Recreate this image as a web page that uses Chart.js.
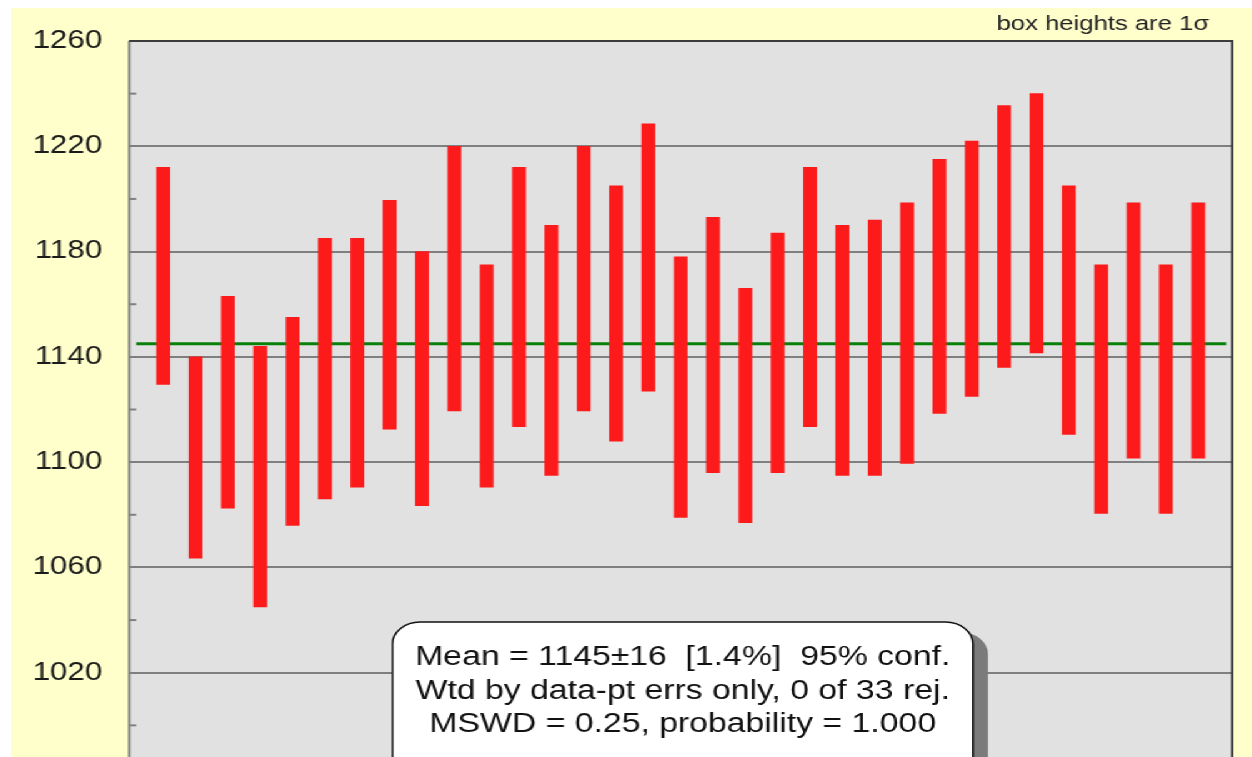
<!DOCTYPE html>
<html>
<head>
<meta charset="utf-8">
<script src="https://cdn.jsdelivr.net/npm/chart.js@4.4.1/dist/chart.umd.min.js"></script>
<style>
  html, body { margin: 0; padding: 0; background: #fff; overflow: hidden; width: 1252px; height: 757px; }
  /* the original plot is stretched sideways, so draw narrow and scale x */
  #wrap {
    position: absolute; left: 11px; top: 8px;
    width: 992.8px; height: 770px;
    background: #ffffcc;
    transform: scaleX(1.25); transform-origin: 0 0;
  }
</style>
</head>
<body>
<div id="wrap"><canvas id="wtd-mean"></canvas></div>
<script>
// analyses, in plot order
const sampleNo = [1, 2, 3, 4, 5, 6, 7, 8, 9, 10, 11, 12, 13, 14, 15, 16, 17,
  18, 19, 20, 21, 22, 23, 24, 25, 26, 27, 28, 29, 30, 31, 32, 33];
// top and bottom of each 1 sigma box (Ma)
const boxTop = [1212, 1140, 1163, 1144, 1155, 1185, 1185, 1199.5, 1180, 1220, 1175,
  1212, 1190, 1220, 1205, 1228.5, 1178, 1193, 1166, 1187, 1212, 1190, 1192, 1198.5,
  1215, 1222, 1235.5, 1240, 1205, 1175, 1198.5, 1175, 1198.5];
const boxBottom = [1129.5, 1063.5, 1082.5, 1045, 1076, 1086, 1090.5, 1112.5, 1083.5, 1119.5, 1090.5,
  1113.5, 1095, 1119.5, 1108, 1127, 1079, 1096, 1077, 1096, 1113.5, 1095, 1095, 1099.5,
  1118.5, 1125, 1136, 1141.5, 1110.5, 1080.5, 1101.5, 1080.5, 1101.5];
const meanAge = 1145;
const yTicks = [980, 1000, 1020, 1040, 1060, 1080, 1100, 1120, 1140, 1160, 1180, 1200, 1220, 1240, 1260];
const yLabelled = [1020, 1060, 1100, 1140, 1180, 1220, 1260];
const statLines = [
  'Mean = 1145\u00b116  [1.4%]  95% conf.',
  'Wtd by data-pt errs only, 0 of 33 rej.',
  'MSWD = 0.25, probability = 1.000'
];
const boxNote = 'box heights are 1\u03c3';

const isMajor = v => v % 40 === 20;

// fondo, linea de la media, marcas menores, marco y recuadro de estadisticas
const plotFrame = {
  id: 'plotFrame',
  beforeDraw(chart) {
    const { ctx, chartArea: a } = chart;
    ctx.save();
    ctx.fillStyle = '#e1e1e1';
    ctx.fillRect(a.left, a.top, a.right - a.left, a.bottom - a.top);
    ctx.restore();
  },
  beforeDatasetsDraw(chart) {
    const { ctx, chartArea: a, scales } = chart;
    ctx.save();
    // minor ticks inside the left edge
    ctx.strokeStyle = '#7f7f7f';
    ctx.lineWidth = 2;
    scales.y.ticks.forEach(t => {
      if (isMajor(t.value)) return;
      const y = scales.y.getPixelForValue(t.value);
      ctx.beginPath();
      ctx.moveTo(a.left, y);
      ctx.lineTo(a.left + 5.6, y);
      ctx.stroke();
    });
    // weighted mean
    const ym = scales.y.getPixelForValue(meanAge);
    ctx.strokeStyle = '#08800a';
    ctx.lineWidth = 3;
    ctx.beginPath();
    ctx.moveTo(a.left + 5.6, ym);
    ctx.lineTo(a.right - 4.8, ym);
    ctx.stroke();
    ctx.restore();
  },
  afterDatasetsDraw(chart) {
    const { ctx, chartArea: a } = chart;
    ctx.save();
    // frame
    ctx.lineWidth = 2;
    ctx.strokeStyle = '#808080';
    ctx.beginPath();
    ctx.moveTo(a.left, a.top);
    ctx.lineTo(a.left, a.bottom);
    ctx.stroke();
    ctx.strokeStyle = '#3c3c3c';
    ctx.beginPath();
    ctx.moveTo(a.left, a.top);
    ctx.lineTo(a.right, a.top);
    ctx.lineTo(a.right, a.bottom);
    ctx.stroke();

    // stats box with shadow
    const bx = 304.8, by = 614, bw = 464, bh = 200;
    ctx.fillStyle = '#7b7b7b';
    ctx.beginPath();
    ctx.roundRect(bx + 12, by + 10, bw, bh, 22);
    ctx.fill();
    ctx.fillStyle = '#ffffff';
    ctx.strokeStyle = '#111';
    ctx.lineWidth = 1.5;
    ctx.beginPath();
    ctx.roundRect(bx, by, bw, bh, 22);
    ctx.fill();
    ctx.stroke();
    ctx.fillStyle = '#111';
    ctx.font = '27px "Liberation Sans", Arial, sans-serif';
    ctx.textAlign = 'center';
    ctx.textBaseline = 'middle';
    statLines.forEach((s, i) => ctx.fillText(s, bx + bw / 2, by + 36 + i * 33.5));

    // note top right
    ctx.font = '20.5px "Liberation Sans", Arial, sans-serif';
    ctx.textAlign = 'right';
    ctx.textBaseline = 'alphabetic';
    ctx.fillStyle = '#222';
    ctx.fillText(boxNote, 957.6, 21.5);
    ctx.restore();
  }
};

new Chart(document.getElementById('wtd-mean'), {
  type: 'bar',
  data: {
    datasets: [{
      data: sampleNo.map((n, i) => ({ x: n, y: [boxBottom[i], boxTop[i]] })),
      backgroundColor: '#fd1a1a',
      borderWidth: 0,
      barThickness: 10.4
    }]
  },
  options: {
    responsive: true,
    maintainAspectRatio: false,
    animation: false,
    layout: { padding: { top: 33, right: 16.8, bottom: 0, left: 0 } },
    plugins: {
      legend: { display: false },
      tooltip: { enabled: false }
    },
    scales: {
      x: { type: 'linear', min: -0.05, max: 34.05, offset: false, display: false },
      y: {
        min: yTicks[0],
        max: yTicks[yTicks.length - 1],
        afterFit: s => {
          s.width = 94.4;
          s.paddingTop = 0;
          s.paddingBottom = 0;
        },
        afterBuildTicks: s => { s.ticks = yTicks.map(v => ({ value: v })); },
        border: { display: false },
        grid: {
          drawTicks: false,
          lineWidth: 2,
          color: c => (c.tick && isMajor(c.tick.value)) ? '#7f7f7f' : 'rgba(0,0,0,0)'
        },
        ticks: {
          padding: 21.6,
          autoSkip: false,
          color: '#1a1a1a',
          font: { family: '"Liberation Sans", Arial, sans-serif', size: 25 },
          callback: v => yLabelled.includes(v) ? String(v) : ''
        }
      }
    }
  },
  plugins: [plotFrame]
});
</script>
</body>
</html>
